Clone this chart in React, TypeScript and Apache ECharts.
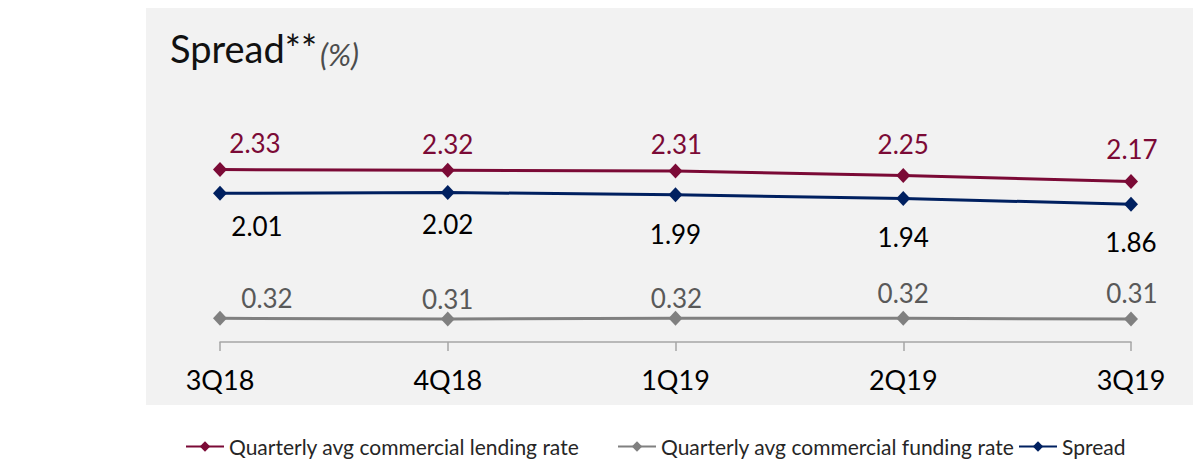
import React, { useEffect, useRef } from "react";
import * as echarts from "echarts";

const categories = ["3Q18", "4Q18", "1Q19", "2Q19", "3Q19"];
const lendingRate = [2.33, 2.32, 2.31, 2.25, 2.17];
const fundingRate = [0.32, 0.31, 0.32, 0.32, 0.31];
const spread = [2.01, 2.02, 1.99, 1.94, 1.86];

const seriesNames = [
  "Quarterly avg commercial lending rate",
  "Quarterly avg commercial funding rate",
  "Spread",
];

// label layout (offsets relative to each marker)
const lendingOffsets = [[35, -27], [0, -26], [1, -27], [0, -32], [1, -32]];
const spreadOffsets = [[37, 33], [0, 31], [0, 39], [0, 39], [0, 38]];
const fundingOffsets = [[47, -20], [0, -20], [1, -20], [0, -25], [1, -26]];

const FONT = "Lato";
const MAROON = "#7b0a36";
const NAVY = "#002060";
const GRAY = "#808080";

function withLabels(values: number[], offsets: number[][], color: string) {
  return values.map((v, i) => ({
    value: v,
    label: {
      show: true,
      position: "inside",
      offset: offsets[i],
      color,
      fontSize: 26,
      fontFamily: FONT,
      formatter: (p: any) => Number(p.value).toFixed(2),
    },
  }));
}

export default function App() {
  const ref = useRef<HTMLDivElement>(null);
  useEffect(() => {
    if (!ref.current) return;
    const chart = echarts.init(ref.current, undefined, { renderer: "svg" });
    const legendBase = {
      top: 431,
      itemWidth: 38,
      itemHeight: 13,
      textStyle: { fontFamily: FONT, fontSize: 21, color: "#262626" },
    };
    chart.setOption({
      animation: false,
      backgroundColor: "#ffffff",
      graphic: [
        {
          type: "rect",
          z: -10,
          shape: { x: 146, y: 8, width: 1047, height: 397 },
          style: { fill: "#f2f2f2" },
          silent: true,
        },
        {
          type: "text",
          x: 170,
          y: 48,
          style: {
            text: "Spread**",
            fontFamily: FONT,
            fontSize: 38,
            fill: "#111111",
            verticalAlign: "middle",
          },
        },
        {
          type: "text",
          x: 320,
          y: 54,
          style: {
            text: "(%)",
            fontFamily: FONT,
            fontSize: 31,
            fontStyle: "italic",
            fill: "#4d4d4d",
            verticalAlign: "middle",
          },
        },
      ],
      legend: [
        { ...legendBase, left: 180, data: [seriesNames[0]] },
        { ...legendBase, left: 612, data: [seriesNames[1]] },
        { ...legendBase, left: 1013, data: [seriesNames[2]] },
      ],
      grid: { left: 220, right: 62, top: 120, bottom: 117 },
      xAxis: {
        type: "category",
        data: categories,
        boundaryGap: false,
        axisLine: { lineStyle: { color: "#a6a6a6", width: 1.5 } },
        axisTick: { show: true, length: 9, lineStyle: { color: "#a6a6a6", width: 1.5 } },
        axisLabel: { color: "#000000", fontSize: 27, fontFamily: FONT, margin: 24 },
        splitLine: { show: false },
      },
      yAxis: { type: "value", min: 0, max: 3, show: false, splitLine: { show: false } },
      series: [
        {
          name: seriesNames[0],
          type: "line",
          data: withLabels(lendingRate, lendingOffsets, MAROON),
          symbol: "diamond",
          symbolSize: [14, 15],
          lineStyle: { color: MAROON, width: 3 },
          itemStyle: { color: MAROON },
        },
        {
          name: seriesNames[1],
          type: "line",
          data: withLabels(fundingRate, fundingOffsets, "#595959"),
          symbol: "diamond",
          symbolSize: [14, 15],
          lineStyle: { color: GRAY, width: 3 },
          itemStyle: { color: GRAY },
        },
        {
          name: seriesNames[2],
          type: "line",
          data: withLabels(spread, spreadOffsets, "#000000"),
          symbol: "diamond",
          symbolSize: [14, 15],
          lineStyle: { color: NAVY, width: 3 },
          itemStyle: { color: NAVY },
        },
      ],
    });
    return () => chart.dispose();
  }, []);
  return (
    <div
      ref={ref}
      style={{ position: "fixed", left: 0, top: 0, width: 1193, height: 459 }}
    />
  );
}
